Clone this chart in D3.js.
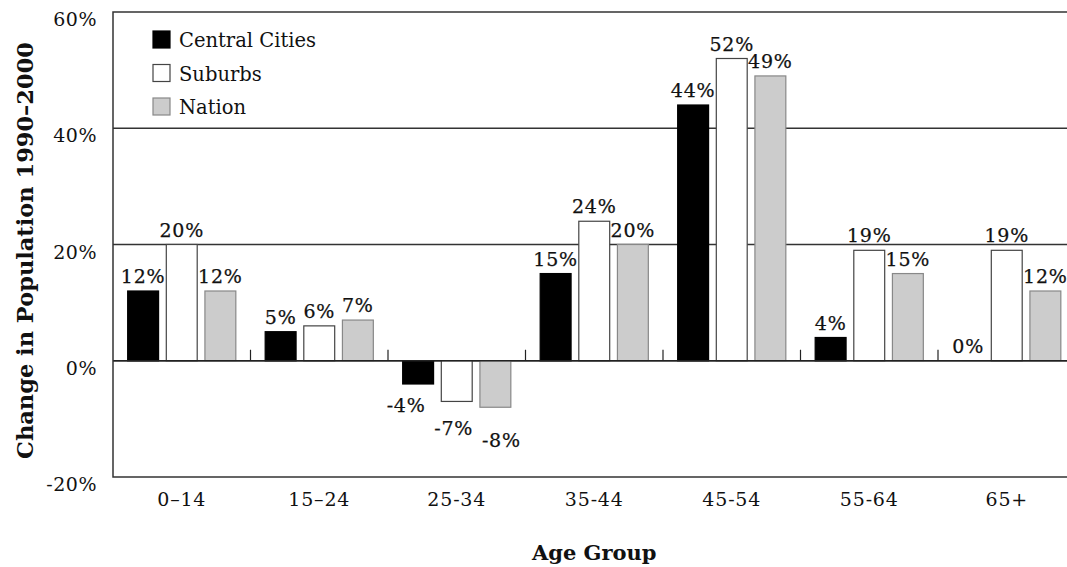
<!DOCTYPE html>
<html>
<head>
<meta charset="utf-8">
<script src="https://cdn.jsdelivr.net/npm/d3@7"></script>
<style>
  body { margin: 0; background: #fff; }
  svg text { font-family: "DejaVu Serif", serif; fill: #111; }
</style>
</head>
<body>
<svg id="chart" width="1067" height="567"></svg>
<script>
// data
var ageGroups = ["0\u201314", "15\u201324", "25-34", "35-44", "45-54", "55-64", "65+"];
var seriesNames = ["Central Cities", "Suburbs", "Nation"];
var centralCities = [12, 5, -4, 15, 44, 4, 0];
var suburbs = [20, 6, -7, 24, 52, 19, 19];
var nation = [12, 7, -8, 20, 49, 15, 12];
var yTicks = [-20, 0, 20, 40, 60];
var gridValues = [0, 20, 40];

var FILLS = ["#000", "#fff", "#cccccc"];
var STROKES = ["#000", "#444", "#888"];
var FONT = "'DejaVu Serif', serif";

var LEFT = 113, TOP = 12, BOTTOM = 477, BAND = 137.5;
var RIGHT = LEFT + BAND * ageGroups.length;

var svg = d3.select("#chart");

var x = d3.scaleBand().domain(ageGroups).range([LEFT, RIGHT]);
var xs = d3.scaleBand().domain(seriesNames).range([0, BAND]).paddingInner(0.2).paddingOuter(0.38);
var y = d3.scaleLinear().domain([-20, 60]).range([BOTTOM, TOP]);

var rows = [];
ageGroups.forEach(function (g, i) {
    [centralCities, suburbs, nation].forEach(function (vals, s) {
        rows.push({group: g, series: seriesNames[s], s: s, value: vals[i]});
    });
});

// gridlines
svg.append("g").selectAll("line")
    .data(gridValues)
    .join("line")
    .attr("x1", LEFT).attr("x2", RIGHT)
    .attr("y1", function (d) { return y(d); })
    .attr("y2", function (d) { return y(d); })
    .attr("stroke", "#333").attr("stroke-width", 1.5);

// bars
svg.append("g").selectAll("rect")
    .data(rows)
    .join("rect")
    .attr("x", function (d) { return x(d.group) + xs(d.series); })
    .attr("width", xs.bandwidth())
    .attr("y", function (d) { return y(Math.max(0, d.value)); })
    .attr("height", function (d) { return Math.abs(y(d.value) - y(0)); })
    .attr("fill", function (d) { return FILLS[d.s]; })
    .attr("stroke", function (d) { return STROKES[d.s]; })
    .attr("stroke-width", 1.2);

// zero line on top of bars plus small inner ticks between groups
svg.append("line")
    .attr("x1", LEFT).attr("x2", RIGHT)
    .attr("y1", y(0)).attr("y2", y(0))
    .attr("stroke", "#222").attr("stroke-width", 1.5);

svg.append("g").selectAll("line")
    .data(ageGroups.slice(1))
    .join("line")
    .attr("x1", function (d) { return x(d); })
    .attr("x2", function (d) { return x(d); })
    .attr("y1", y(0)).attr("y2", y(0) - 11)
    .attr("stroke", "#222").attr("stroke-width", 1.2);

// frame: top, left, bottom
svg.append("path")
    .attr("d", "M" + RIGHT + "," + TOP + "H" + LEFT + "V" + BOTTOM + "H" + RIGHT)
    .attr("fill", "none").attr("stroke", "#333").attr("stroke-width", 1.5);

// y axis labels
var yAxis = d3.axisLeft(y).tickValues(yTicks).tickSize(0).tickPadding(16)
    .tickFormat(function (d) { return d + "%"; });
var gy = svg.append("g").attr("transform", "translate(" + LEFT + ",0)").call(yAxis);
gy.select(".domain").remove();
gy.selectAll("text")
    .attr("dy", "0.72em")
    .style("font-family", FONT)
    .style("font-size", "19px").style("letter-spacing", "0.5px")
    .attr("fill", "#222");

// x axis labels
var xAxis = d3.axisBottom(x).tickSize(0).tickPadding(0);
var gx = svg.append("g").attr("transform", "translate(0," + BOTTOM + ")").call(xAxis);
gx.select(".domain").remove();
gx.selectAll("text")
    .attr("dy", "1.55em")
    .style("font-family", FONT)
    .style("font-size", "19px").style("letter-spacing", "0.8px")
    .attr("fill", "#222");

// value labels (negative ones sit staggered below their bars)
svg.append("g").selectAll("text")
    .data(rows)
    .join("text")
    .attr("x", function (d) {
        var cx = x(d.group) + xs(d.series) + xs.bandwidth() / 2;
        return d.value >= 0 ? cx : cx + (d.s - 1) * 9 - 3;
    })
    .attr("y", function (d) { return d.value >= 0 ? y(d.value) - 8 : y(d.value) + 28 + d.s * 6; })
    .attr("text-anchor", "middle")
    .style("font-size", "19px")
    .style("letter-spacing", "0.8px")
    .attr("stroke", "#111").attr("stroke-width", 0.25)
    .text(function (d) { return d.value + "%"; });

// legend
var legend = svg.append("g").attr("transform", "translate(153,31)");
var li = legend.selectAll("g")
    .data(seriesNames)
    .join("g")
    .attr("transform", function (d, i) { return "translate(0," + (i * 33.5) + ")"; });
li.append("rect")
    .attr("width", 17).attr("height", 17)
    .attr("fill", function (d, i) { return FILLS[i]; })
    .attr("stroke", function (d, i) { return STROKES[i]; })
    .attr("stroke-width", 1.2);
li.append("text")
    .attr("x", 26).attr("y", 16)
    .style("font-size", "19.5px")
    .text(function (d) { return d; });

// axis titles
svg.append("text")
    .attr("transform", "translate(33," + ((TOP + BOTTOM) / 2 + 6) + ") rotate(-90)")
    .attr("text-anchor", "middle")
    .style("font-size", "22.5px").style("font-weight", "bold")
    .text("Change in Population 1990\u20132000");

svg.append("text")
    .attr("x", (LEFT + RIGHT) / 2).attr("y", 560)
    .attr("text-anchor", "middle")
    .style("font-size", "21px").style("font-weight", "bold")
    .text("Age Group");
</script>
</body>
</html>
